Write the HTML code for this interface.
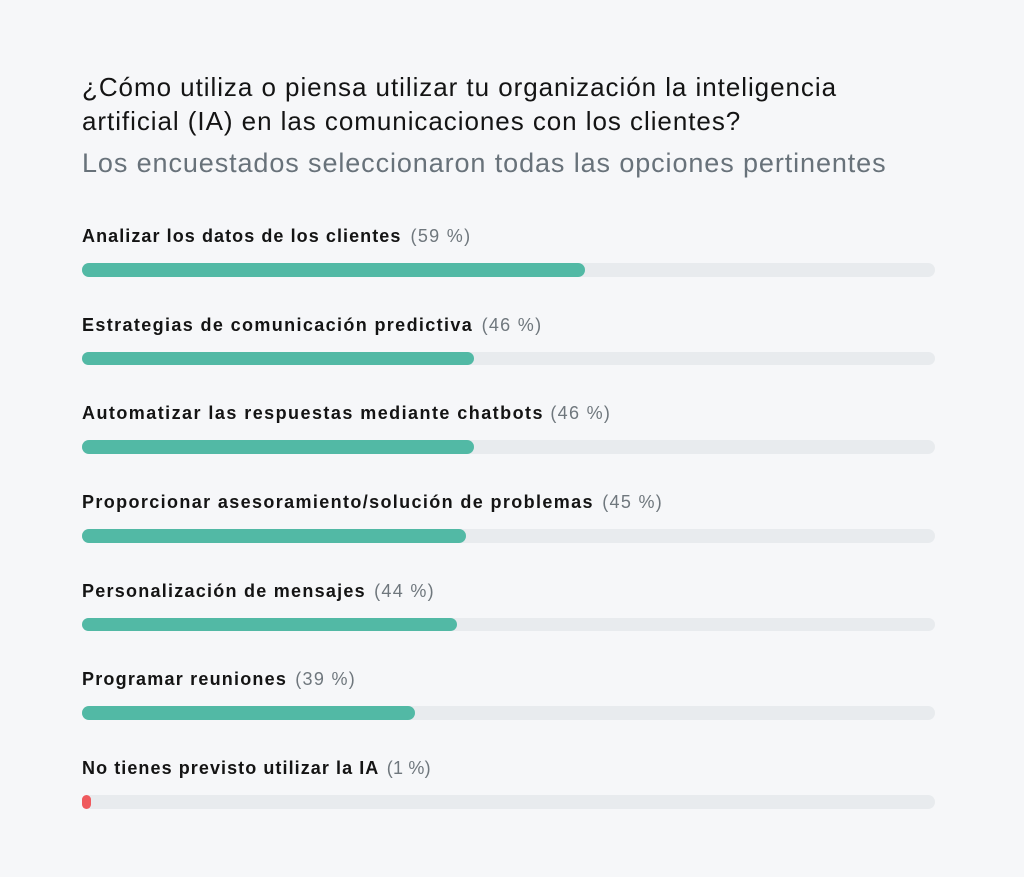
<!DOCTYPE html>
<html>
<head>
<meta charset="utf-8">
<style>
  html, body { margin:0; padding:0; }
  body { width:1024px; height:877px; background:#f6f7f9; position:relative; overflow:hidden;
         font-family:"Liberation Sans", Arial, sans-serif; }
  .title { position:absolute; left:82px; top:69.5px; font-size:26px; line-height:34px;
           color:#141414; letter-spacing:0.95px; white-space:nowrap; }
  .sub { position:absolute; left:82px; top:145.6px; font-size:27px; line-height:34px;
         color:#68727a; letter-spacing:0.9px; white-space:nowrap; }
  .lbl { position:absolute; left:82px; font-size:18px; line-height:22px; font-weight:bold;
         color:#141414; letter-spacing:0.95px; white-space:nowrap; }
  .lbl span { font-weight:normal; color:#6f777d; letter-spacing:1.3px; margin-left:2px; }
  .track { position:absolute; left:82px; width:853px; height:13.5px; border-radius:7px; background:#e8ebee; }
  .fill { position:absolute; left:0; top:0; height:100%; border-radius:7px; background:#52b9a5; }
  .fill.red { background:#ef5a5e; }
</style>
</head>
<body>
  <div class="title">¿Cómo utiliza o piensa utilizar tu organización la inteligencia<br>artificial (IA) en las comunicaciones con los clientes?</div>
  <div class="sub">Los encuestados seleccionaron todas las opciones pertinentes</div>

  <div class="lbl" style="top:224.8px;letter-spacing:1.07px">Analizar los datos de los clientes <span style="margin-left:3px">(59 %)</span></div>
  <div class="track" style="top:263px"><div class="fill" style="width:503px"></div></div>

  <div class="lbl" style="top:313.5px;letter-spacing:1.37px">Estrategias de comunicación predictiva <span>(46 %)</span></div>
  <div class="track" style="top:351.7px"><div class="fill" style="width:392px"></div></div>

  <div class="lbl" style="top:402.2px;letter-spacing:1.45px">Automatizar las respuestas mediante chatbots <span style="margin-left:0">(46 %)</span></div>
  <div class="track" style="top:440.4px"><div class="fill" style="width:392px"></div></div>

  <div class="lbl" style="top:490.9px;letter-spacing:1.37px">Proporcionar asesoramiento/solución de problemas <span>(45 %)</span></div>
  <div class="track" style="top:529.1px"><div class="fill" style="width:384px"></div></div>

  <div class="lbl" style="top:579.6px;letter-spacing:1.25px">Personalización de mensajes <span>(44 %)</span></div>
  <div class="track" style="top:617.8px"><div class="fill" style="width:375px"></div></div>

  <div class="lbl" style="top:668.3px;letter-spacing:1.21px">Programar reuniones <span>(39 %)</span></div>
  <div class="track" style="top:706px"><div class="fill" style="width:333px"></div></div>

  <div class="lbl" style="top:757px;letter-spacing:1.07px">No tienes previsto utilizar la IA <span style="letter-spacing:0.2px;margin-left:2px">(1 %)</span></div>
  <div class="track" style="top:795px"><div class="fill red" style="width:9px"></div></div>
</body>
</html>
